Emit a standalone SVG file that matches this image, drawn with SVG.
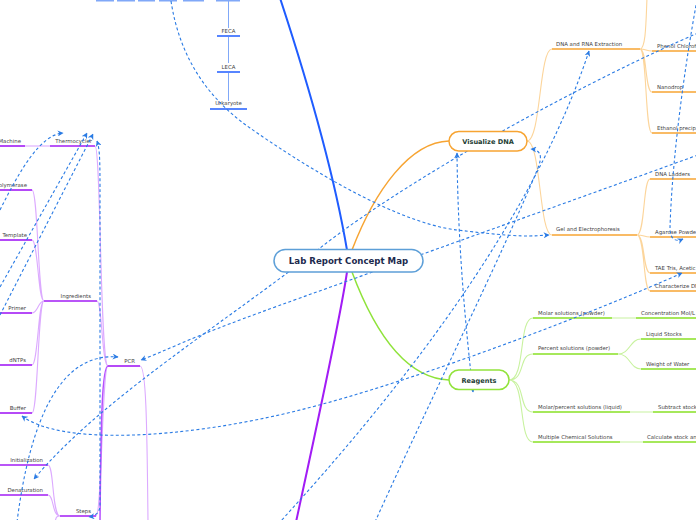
<svg xmlns="http://www.w3.org/2000/svg" width="696" height="520" viewBox="0 0 696 520">
<defs>
<marker id="ar" viewBox="0 0 10 10" refX="9" refY="5" markerWidth="6" markerHeight="6" orient="auto-start-reverse" markerUnits="userSpaceOnUse">
<path d="M0,0 L10,5 L0,10 L3,5 z" fill="#2a7be4"/>
</marker>
</defs>
<style>
.lbl{font-family:"DejaVu Sans",Verdana,sans-serif;font-size:5.4px;fill:#444}
.end{text-anchor:end}
.mid{text-anchor:middle}
.dash{fill:none;stroke:#2a7be4;stroke-width:1.1;stroke-dasharray:3 2.4}
.pd{fill:none;stroke:#a21cf5;stroke-width:1.6}
.pl{fill:none;stroke:#dcaaff;stroke-width:1.1}
.od{fill:none;stroke:#f7a432;stroke-width:1.5}
.ol{fill:none;stroke:#fcd59b;stroke-width:1.1}
.gd{fill:none;stroke:#88e024;stroke-width:1.5}
.gl{fill:none;stroke:#c8f29f;stroke-width:1.1}
.bd{fill:none;stroke:#1f5cff;stroke-width:1.5}
.bl{fill:none;stroke:#80a8f8;stroke-width:1}
.btop{fill:none;stroke:#80a8f8;stroke-width:2}
.big{font-family:"DejaVu Sans",Verdana,sans-serif;font-weight:bold;text-anchor:middle}
</style>
<rect width="696" height="520" fill="#ffffff"/>

<g id="main-branches">
<path d="M347,250 Q 330,150 280,-2" fill="none" stroke="#1f5cff" stroke-width="2"/>
<path d="M352,250 C 375,190 410,142 449,141" fill="none" stroke="#f7a432" stroke-width="1.5"/>
<path d="M352,272 C 370,320 400,378 449,380" fill="none" stroke="#8fe33a" stroke-width="1.5"/>
<path d="M347,272 Q 340,320 296,522" fill="none" stroke="#a21cf5" stroke-width="2"/>
</g>

<g id="blue-tree">
<path class="btop" d="M96,0.5 H114 M117,0.5 H135 M138,0.5 H155 M159,0.5 H177 M183,0.5 H204 M216,0.5 H240"/>
<path class="bl" d="M228.5,0 V28 M228.5,37 V63 M228.5,73 V101"/>
<g id="n-feca"><path class="bd" d="M217,36 H240"/><text class="lbl mid" x="228.5" y="32.5">FECA</text></g>
<g id="n-leca"><path class="bd" d="M217,72 H240"/><text class="lbl mid" x="228.5" y="68.5">LECA</text></g>
<g id="n-urkaryote"><path class="bd" d="M210,109 H247"/><text class="lbl mid" x="228.5" y="105">Urkaryote</text></g>
</g>

<g id="purple-tree">
<path class="pl" d="M108,366 C 100,366 101,146 95,146"/>
<path class="pl" d="M108,366 C 102,366 102,301 97,301"/>
<path class="pl" d="M108,366 C 102,366 102,516 96,516"/>
<path d="M108,366 C 102,366 101,420 100,522" fill="none" stroke="#b650ff" stroke-width="1.5"/>
<path class="pl" d="M140,366 C 146,366 147,420 148,522"/>
<path class="pl" d="M25,146 H50"/>
<path class="pl" d="M44,301 C 38,301 38,190 32,190 M44,301 C 38,301 38,240 32,240 M44,301 C 38,301 38,313 32,313 M44,301 C 38,301 38,365 32,365 M44,301 C 38,301 38,413 32,413"/>
<path class="pl" d="M60,516 C 52,516 54,465 48,465 M60,516 C 52,516 54,495 48,495 M60,516 C 56,516 56,518 55,522"/>
<g id="n-pcr"><path class="pd" d="M108,366 H140"/><text class="lbl end" x="135" y="362.5">PCR</text></g>
<g id="n-thermocycler"><path class="pd" d="M50,146 H95"/><text class="lbl end" x="92" y="142.5">Thermocycler</text></g>
<g id="n-machine"><path class="pd" d="M0,146 H25"/><text class="lbl end" x="21" y="142.5">Machine</text></g>
<g id="n-ingredients"><path class="pd" d="M44,301 H97"/><text class="lbl end" x="91" y="297.5">Ingredients</text></g>
<g id="n-polymerase"><path class="pd" d="M0,190 H32"/><text class="lbl end" x="27" y="186.5">Polymerase</text></g>
<g id="n-template"><path class="pd" d="M0,240 H32"/><text class="lbl end" x="27" y="236.5">Template</text></g>
<g id="n-primer"><path class="pd" d="M0,313 H32"/><text class="lbl end" x="26" y="309.5">Primer</text></g>
<g id="n-dntps"><path class="pd" d="M0,365 H32"/><text class="lbl end" x="26" y="361.5">dNTPs</text></g>
<g id="n-buffer"><path class="pd" d="M0,413 H32"/><text class="lbl end" x="26" y="409.5">Buffer</text></g>
<g id="n-steps"><path class="pd" d="M60,516 H96"/><text class="lbl end" x="91" y="512.5">Steps</text></g>
<g id="n-initialization"><path class="pd" d="M0,465 H48"/><text class="lbl end" x="43" y="461.5">Initialization</text></g>
<g id="n-denaturation"><path class="pd" d="M0,495 H48"/><text class="lbl end" x="43" y="491.5">Denaturation</text></g>
</g>

<g id="orange-tree">
<path class="ol" d="M527,141 C 541,141 539,49 552,49 M527,141 C 541,141 539,235 552,235"/>
<path class="ol" d="M640,49 C 646,49 646,51 652,51 M640,49 C 647,49 645,92 652,92 M640,49 C 647,49 645,133 652,133 M640,49 C 646,49 646,20 647,-2"/>
<path class="ol" d="M637,235 C 645,235 643,179 650,179 M637,235 C 644,235 644,237 650,237 M637,235 C 645,235 643,273 650,273 M637,235 C 645,235 643,291 650,291"/>
<g id="n-extraction"><path class="od" d="M552,49 H640"/><text class="lbl" x="556" y="45.5">DNA and RNA Extraction</text></g>
<g id="n-phenol"><path class="od" d="M652,51 H696"/><text class="lbl" x="657" y="47.5">Phenol Chloroform</text></g>
<g id="n-nanodrop"><path class="od" d="M652,92 H696"/><text class="lbl" x="657" y="88.5">Nanodrop</text></g>
<g id="n-ethanol"><path class="od" d="M652,133 H696"/><text class="lbl" x="657" y="129.5">Ethanol precipitation</text></g>
<g id="n-gel"><path class="od" d="M552,235 H637"/><text class="lbl" x="556" y="231">Gel and Electrophoresis</text></g>
<g id="n-ladders"><path class="od" d="M650,179 H696"/><text class="lbl" x="655" y="175.5">DNA Ladders</text></g>
<g id="n-agarose"><path class="od" d="M650,237 H696"/><text class="lbl" x="655" y="233.5">Agarose Powder</text></g>
<g id="n-tae"><path class="od" d="M650,273 H696"/><text class="lbl" x="655" y="269.5">TAE Tris, Acetic</text></g>
<g id="n-characterize"><path class="od" d="M650,291 H696"/><text class="lbl" x="655" y="287.5">Characterize DNA</text></g>
</g>

<g id="green-tree">
<path class="gl" d="M509,380 C 526,380 518,318 533,318 M509,380 C 526,380 518,354 533,354 M509,380 C 526,380 518,412 533,412 M509,380 C 526,380 518,442 533,442"/>
<path class="gl" d="M612,318 H636 M618,354 C 630,354 630,339 641,339 M618,354 C 630,354 630,369 641,369 M630,412 H653 M620,442 H643"/>
<g id="n-molar"><path class="gd" d="M533,318 H612"/><text class="lbl" x="538" y="314.5">Molar solutions (powder)</text></g>
<g id="n-concentration"><path class="gd" d="M636,318 H696"/><text class="lbl" x="641" y="314.5">Concentration Mol/L</text></g>
<g id="n-percent"><path class="gd" d="M533,354 H618"/><text class="lbl" x="538" y="350">Percent solutions (powder)</text></g>
<g id="n-liquid-stocks"><path class="gd" d="M641,339 H696"/><text class="lbl" x="646" y="335.5">Liquid Stocks</text></g>
<g id="n-weight"><path class="gd" d="M641,369 H696"/><text class="lbl" x="646" y="365.5">Weight of Water</text></g>
<g id="n-liquid"><path class="gd" d="M533,412 H630"/><text class="lbl" x="538" y="408.5">Molar/percent solutions (liquid)</text></g>
<g id="n-subtract"><path class="gd" d="M653,412 H696"/><text class="lbl" x="658" y="408.5">Subtract stock</text></g>
<g id="n-multiple"><path class="gd" d="M533,442 H620"/><text class="lbl" x="538" y="438.5">Multiple Chemical Solutions</text></g>
<g id="n-calculate"><path class="gd" d="M643,442 H696"/><text class="lbl" x="647" y="438.5">Calculate stock and</text></g>
</g>

<g id="connectors">
<path class="dash" d="M171,1 C 180,60 210,100 250,128 S 390,222 457,230 S 530,236 549,235" marker-end="url(#ar)"/>
<path class="dash" d="M698,33 C 600,75 420,170 320,248 S 100,400 34,479" marker-end="url(#ar)"/>
<path class="dash" d="M375,522 C 430,400 500,260 538,168 C 543,155 540,150 531,149" marker-end="url(#ar)"/>
<path class="dash" d="M589,51 Q 520,260 280,522" marker-start="url(#ar)"/>
<path class="dash" d="M457,153 C 458,250 466,330 473,392" marker-start="url(#ar)" marker-end="url(#ar)"/>
<path class="dash" d="M697,0 C 684,70 672,160 670,228 C 670,240 676,242 683,239" marker-end="url(#ar)"/>
<path class="dash" d="M698,155 C 560,205 420,255 300,298 S 180,345 141,360" marker-end="url(#ar)"/>
<path class="dash" d="M22,416 C 60,445 180,440 300,410 S 600,310 682,273" marker-start="url(#ar)" marker-end="url(#ar)"/>
<path class="dash" d="M97,141 C 100,150 100,160 100,200 L 100,505 C 100,512 96,516 89,517" marker-start="url(#ar)" marker-end="url(#ar)"/>
<path class="dash" d="M0,287 L87,133" marker-end="url(#ar)"/>
<path class="dash" d="M0,315 L93,134" marker-end="url(#ar)"/>
<path class="dash" d="M0,210 C 20,170 40,135 63,133" marker-end="url(#ar)"/>
<path class="dash" d="M17,522 C 30,420 60,352 118,357" marker-end="url(#ar)"/>
</g>

<g id="n-center">
<rect x="274" y="249.5" width="149" height="22.5" rx="11.25" fill="#ffffff" stroke="#5d9fd8" stroke-width="1.5"/>
<text class="big" x="348.5" y="264" font-size="8.6" fill="#1c2a4e">Lab Report Concept Map</text>
</g>
<g id="n-visualize">
<rect x="449" y="131.5" width="78" height="19.5" rx="9.75" fill="#ffffff" stroke="#f7a432" stroke-width="1.5"/>
<text class="big" x="488" y="144" font-size="6.6" fill="#1d3d33">Visualize DNA</text>
</g>
<g id="n-reagents">
<rect x="449" y="370" width="60" height="19.5" rx="9.75" fill="#ffffff" stroke="#92e33c" stroke-width="1.5"/>
<text class="big" x="479" y="382.5" font-size="6.6" fill="#1d3d33">Reagents</text>
</g>
</svg>
